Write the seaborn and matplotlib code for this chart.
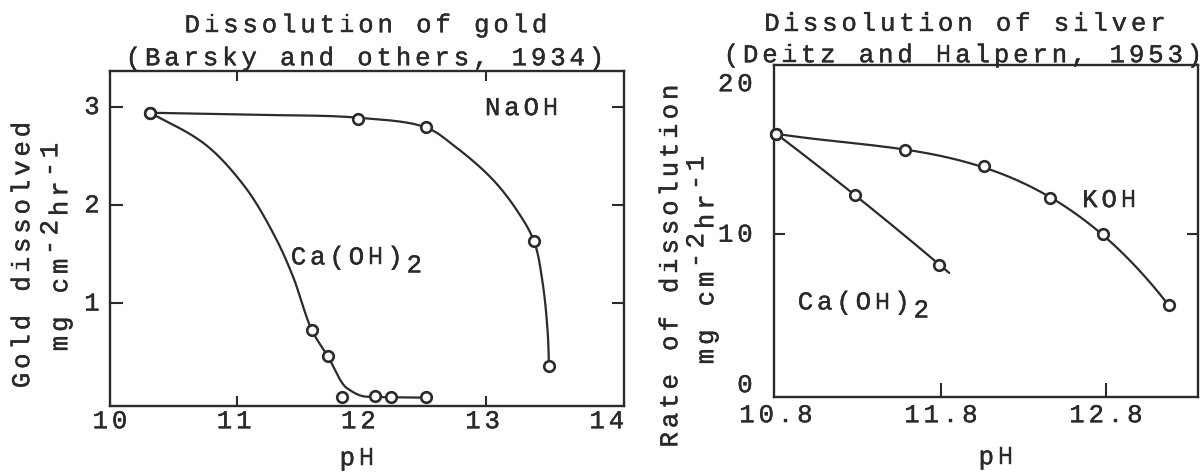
import numpy as np
import matplotlib
matplotlib.use("Agg")
import matplotlib.pyplot as plt
import matplotlib.transforms as mtransforms
import matplotlib.patheffects as pe
import seaborn as sns

# ---------------- data ----------------
# Dissolution of gold (Barsky and others, 1934)
gold_naoh_ph = [10.30, 11.97, 12.52, 13.39, 13.51]
gold_naoh_rate = [2.94, 2.88, 2.79, 1.63, 0.36]
gold_caoh_ph = [10.30, 11.60, 11.73, 11.84, 12.11, 12.24, 12.52]
gold_caoh_rate = [2.94, 0.73, 0.46, 0.05, 0.06, 0.05, 0.05]
# hand-fitted trend curves
gold_naoh_curve_ph = [10.30, 11.10, 11.97, 12.52, 12.75, 13.05, 13.25, 13.39, 13.46, 13.50, 13.51]
gold_naoh_curve_rate = [2.94, 2.92, 2.89, 2.79, 2.60, 2.27, 1.95, 1.63, 1.20, 0.70, 0.36]
gold_caoh_curve_ph = [10.30, 10.73, 11.06, 11.32, 11.45, 11.60, 11.73, 11.88, 12.04, 12.52]
gold_caoh_curve_rate = [2.94, 2.63, 2.19, 1.64, 1.27, 0.73, 0.46, 0.14, 0.05, 0.04]
gold_ph_labels = [10, 11, 12, 13, 14]
gold_ph_ticks = [11, 13]
gold_rate_ticks = [1, 2, 3]

# Dissolution of silver (Deitz and Halpern, 1953)
silver_koh_ph = [10.80, 11.58, 12.06, 12.46, 12.78, 13.18]
silver_koh_rate = [16.7, 15.6, 14.55, 12.4, 10.0, 5.3]
silver_caoh_ph = [10.80, 11.28, 11.79]
silver_caoh_rate = [16.7, 12.6, 8.0]
silver_caoh_curve_end = [11.85, 6.9]
silver_ph_labels = ["10.8", "11.8", "12.8"]
silver_ph_ticks = [11.8, 12.8]
silver_rate_labels = [0, 10, 20]
silver_rate_ticks = [10]

# ---------------- style ----------------
sns.set_theme(style="white")
plt.rcParams["font.family"] = ["Liberation Mono", "DejaVu Sans Mono"]

INK = "#2b2b2b"
TXT = "#2a2a2a"
FS = 18.5        # typewriter font size (pt)
PITCH = 19.3     # typewriter character pitch (px)
CAP = 14.5       # cap height (px)
INK_FX = [pe.withStroke(linewidth=0.3, foreground=TXT)]

W, H = 1202, 474
fig = plt.figure(figsize=(W / 100, H / 100), dpi=100)
fig.patch.set_facecolor("white")

ax_gold = fig.add_axes([110 / W, 1 - 406 / H, 514 / W, 335 / H])
ax_silver = fig.add_axes([774 / W, 1 - 397 / H, 424 / W, 332 / H])


def typed(target, x, y, segments, transform, ha="center", rotation=0):
    """Typewriter text: fixed pitch per character; (x, y) is the cap centre."""
    if isinstance(segments, str):
        segments = [(segments, 0)]
    chars = [(ch, shift) for text, shift in segments for ch in text]
    n = len(chars)
    if ha == "center":
        start = -(n - 1) / 2 * PITCH
    elif ha == "left":
        start = 0.0
    else:
        start = -(n - 1) * PITCH
    th = np.deg2rad(rotation)
    ux, uy = np.cos(th), np.sin(th)
    vx, vy = -np.sin(th), np.cos(th)
    for i, (ch, shift) in enumerate(chars):
        if ch == " ":
            continue
        d = start + i * PITCH
        up = shift - CAP / 2
        tr = mtransforms.offset_copy(transform, fig=fig,
                                     x=d * ux + up * vx, y=d * uy + up * vy,
                                     units="dots")
        target.text(x, y, ch, transform=tr, ha="center", va="baseline",
                    rotation=rotation, rotation_mode="anchor",
                    fontsize=FS, color=TXT, path_effects=INK_FX)


def fpx(x, y):
    return x / W, 1 - y / H


def screen_scale(ax):
    x0, x1 = ax.get_xlim()
    y0, y1 = ax.get_ylim()
    bb = ax.get_position()
    return bb.width * W / (x1 - x0), bb.height * H / (y1 - y0)


def catmull_rom(ax, xs, ys, n=40):
    """Centripetal Catmull-Rom path through the curve knots (in screen proportions)."""
    sx, sy = screen_scale(ax)
    P = np.column_stack([np.asarray(xs, float) * sx, np.asarray(ys, float) * sy])
    P = np.vstack([2 * P[0] - P[1], P, 2 * P[-1] - P[-2]])
    out = []
    for i in range(len(P) - 3):
        p0, p1, p2, p3 = P[i], P[i + 1], P[i + 2], P[i + 3]
        t0 = 0.0
        t1 = t0 + np.linalg.norm(p1 - p0) ** 0.5
        t2 = t1 + np.linalg.norm(p2 - p1) ** 0.5
        t3 = t2 + np.linalg.norm(p3 - p2) ** 0.5
        t = np.linspace(t1, t2, n)[:, None]
        a1 = (t1 - t) / (t1 - t0) * p0 + (t - t0) / (t1 - t0) * p1
        a2 = (t2 - t) / (t2 - t1) * p1 + (t - t1) / (t2 - t1) * p2
        a3 = (t3 - t) / (t3 - t2) * p2 + (t - t2) / (t3 - t2) * p3
        b1 = (t2 - t) / (t2 - t0) * a1 + (t - t0) / (t2 - t0) * a2
        b2 = (t3 - t) / (t3 - t1) * a2 + (t - t1) / (t3 - t1) * a3
        c = (t2 - t) / (t2 - t1) * b1 + (t - t1) / (t2 - t1) * b2
        out.append(c if i == 0 else c[1:])
    C = np.vstack(out)
    return C[:, 0] / sx, C[:, 1] / sy


def pchip(xs, ys, n=300):
    """Monotone cubic (Fritsch-Carlson) through the knots."""
    x = np.asarray(xs, float)
    y = np.asarray(ys, float)
    h = np.diff(x)
    d = np.diff(y) / h
    m = np.zeros_like(x)
    for k in range(1, len(x) - 1):
        if d[k - 1] * d[k] > 0:
            w1 = 2 * h[k] + h[k - 1]
            w2 = h[k] + 2 * h[k - 1]
            m[k] = (w1 + w2) / (w1 / d[k - 1] + w2 / d[k])
    m[0] = d[0]
    m[-1] = d[-1]
    xx = np.linspace(x[0], x[-1], n)
    idx = np.clip(np.searchsorted(x, xx) - 1, 0, len(h) - 1)
    t = (xx - x[idx]) / h[idx]
    h00 = 2 * t**3 - 3 * t**2 + 1
    h10 = t**3 - 2 * t**2 + t
    h01 = -2 * t**3 + 3 * t**2
    h11 = t**3 - t**2
    yy = h00 * y[idx] + h10 * h[idx] * m[idx] + h01 * y[idx + 1] + h11 * h[idx] * m[idx + 1]
    return xx, yy


def fitted(xs, ys, deg, x_end=None, n=300):
    """Least-squares polynomial trend through the measured points."""
    coef = np.polyfit(xs, ys, deg)
    xx = np.linspace(min(xs), max(xs) if x_end is None else x_end, n)
    return xx, np.polyval(coef, xx)


def draw_line(ax, cx, cy):
    sns.lineplot(x=cx, y=cy, sort=False, estimator=None, errorbar=None,
                 ax=ax, color=INK, linewidth=1.6, zorder=2)


def draw_points(ax, xs, ys):
    sns.scatterplot(x=xs, y=ys, ax=ax, marker="o", s=58, facecolor="white",
                    edgecolor=INK, linewidth=1.9, zorder=3, clip_on=False)


def frame(ax):
    for sp in ax.spines.values():
        sp.set_visible(True)
        sp.set_color(INK)
        sp.set_linewidth(1.7)
    ax.set_facecolor("white")
    ax.set_xlabel("")
    ax.set_ylabel("")
    ax.grid(False)


# ---------------- gold panel ----------------
ax = ax_gold
ax.set_xlim(9.976, 14.114)
ax.set_ylim(-0.045, 3.365)
draw_line(ax, *catmull_rom(ax, gold_naoh_curve_ph, gold_naoh_curve_rate))
draw_line(ax, *pchip(gold_caoh_curve_ph, gold_caoh_curve_rate))
draw_points(ax, gold_naoh_ph, gold_naoh_rate)
draw_points(ax, gold_caoh_ph, gold_caoh_rate)
frame(ax)
ax.set_xticks(gold_ph_ticks)
ax.set_yticks(gold_rate_ticks)
ax.tick_params(axis="x", direction="in", top=True, bottom=True, length=7,
               width=1.5, color=INK, labelbottom=False, labeltop=False)
ax.tick_params(axis="y", direction="in", left=True, right=True, length=9,
               width=1.5, color=INK, labelleft=False, labelright=False)
for v in gold_ph_labels:
    typed(ax, v, 0, str(v), mtransforms.offset_copy(
        ax.get_xaxis_transform(), fig=fig, x=-3, y=-15, units="dots"))
for v in gold_rate_ticks:
    typed(ax, 0, v, str(v), mtransforms.offset_copy(
        ax.get_yaxis_transform(), fig=fig, x=-18, y=0, units="dots"))
typed(ax, 13.29, 2.99, "NaOH", ax.transData)
typed(ax, 11.96, 1.47, [("Ca(OH)", 0), ("2", -8)], ax.transData)

typed(fig, *fpx(366, 25), "Dissolution of gold", fig.transFigure)
typed(fig, *fpx(365, 58), "(Barsky and others, 1934)", fig.transFigure)
typed(fig, *fpx(357, 458), "pH", fig.transFigure)
typed(fig, *fpx(22, 255), "Gold dissolved", fig.transFigure, rotation=90)
typed(fig, *fpx(60, 247), [("mg cm", 0), ("-2", 10), ("hr", 0), ("-1", 10)],
      fig.transFigure, rotation=90)

# ---------------- silver panel ----------------
ax = ax_silver
ax.set_xlim(10.788, 13.358)
ax.set_ylim(-0.80, 21.26)
draw_line(ax, *fitted(silver_koh_ph, silver_koh_rate, 3))
draw_line(ax, *fitted(silver_caoh_ph, silver_caoh_rate, 2, x_end=silver_caoh_curve_end[0]))
draw_points(ax, silver_koh_ph, silver_koh_rate)
draw_points(ax, silver_caoh_ph, silver_caoh_rate)
frame(ax)
ax.set_xticks(silver_ph_ticks)
ax.set_yticks(silver_rate_ticks)
ax.tick_params(axis="x", direction="in", top=False, bottom=True, length=10,
               width=1.5, color=INK, labelbottom=False)
ax.tick_params(axis="y", direction="in", left=True, right=True, length=8,
               width=1.5, color=INK, labelleft=False, labelright=False)
for s in silver_ph_labels:
    typed(ax, float(s), 0, s, mtransforms.offset_copy(
        ax.get_xaxis_transform(), fig=fig, x=0, y=-18, units="dots"))
for v in silver_rate_labels:
    typed(ax, 0, v, str(v), mtransforms.offset_copy(
        ax.get_yaxis_transform(), fig=fig, x=-29, y=0, units="dots"), ha="right")
typed(ax, 12.82, 12.3, "KOH", ax.transData)
typed(ax, 11.33, 5.5, [("Ca(OH)", 0), ("2", -8)], ax.transData)

typed(fig, *fpx(965, 23.5), "Dissolution of silver", fig.transFigure)
typed(fig, *fpx(963, 55), "(Deitz and Halpern, 1953)", fig.transFigure)
typed(fig, *fpx(996, 457), "pH", fig.transFigure)
typed(fig, *fpx(670, 266), "Rate of dissolution", fig.transFigure, rotation=90)
typed(fig, *fpx(706, 260), [("mg cm", 0), ("-2", 10), ("hr", 0), ("-1", 10)],
      fig.transFigure, rotation=90)

fig.savefig("out.png", dpi=100, facecolor="white")
